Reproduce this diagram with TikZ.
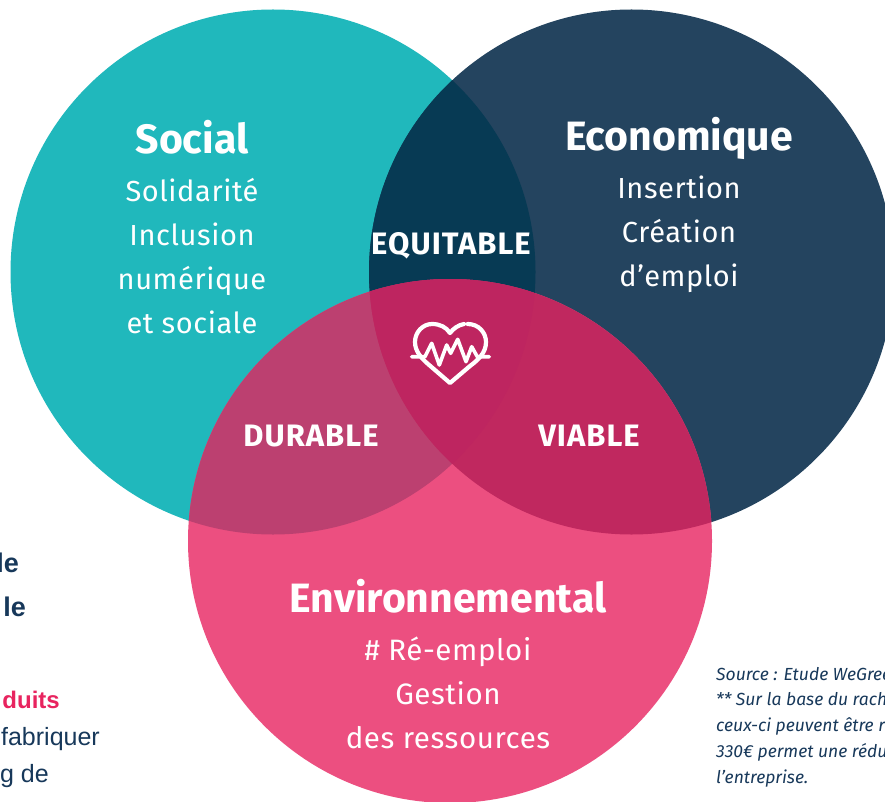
\documentclass[tikz,border=0pt]{standalone}
\usepackage{fontspec}
\setmainfont{Fira Sans}
\newfontfamily\leftfont{Liberation Sans}
\definecolor{cteal}{HTML}{20B8BC}
\definecolor{cnavy}{HTML}{24445F}
\definecolor{cpink}{HTML}{EC4F80}
\definecolor{ctn}{HTML}{073A54}
\definecolor{ctp}{HTML}{BC4070}
\definecolor{cnp}{HTML}{C0285F}
\definecolor{call}{HTML}{BE2560}
\definecolor{ctext}{HTML}{17385A}
\definecolor{cred}{HTML}{E8245F}
\tikzset{
  title/.style={text=white,font=\fontsize{41}{46}\selectfont\bfseries,inner sep=0pt,anchor=center},
  body/.style={text=white,font=\fontsize{29}{44}\selectfont\addfontfeatures{LetterSpace=2}\fontseries{l}\selectfont,inner sep=0pt,anchor=center,align=center},
  zone/.style={text=white,font=\fontsize{31}{36}\selectfont\addfontfeatures{LetterSpace=3.3}\bfseries,inner sep=0pt,anchor=center},
  leftbold/.style={text=ctext,font=\leftfont\fontsize{27}{30}\selectfont\bfseries,inner sep=0pt,anchor=base east},
  leftbody/.style={text=ctext,font=\leftfont\fontsize{25}{30}\selectfont,inner sep=0pt,anchor=base east},
  note/.style={text=ctext,font=\fontsize{17.5}{26}\selectfont\itshape,inner sep=0pt,anchor=base west},
  icon/.style={draw=white,line width=4.2pt,line cap=round,line join=round}
}
\def\teal{(273,272) circle[radius=262.5]}
\def\navy{(631.5,272) circle[radius=262.5]}
\def\pink{(450,541) circle[radius=262]}
\begin{document}
\begin{tikzpicture}[x=1pt,y=-1pt]
\useasboundingbox (0,0) rectangle (885,802);
\clip (0,0) rectangle (885,802);
\fill[white] (0,0) rectangle (885,802);
\fill[cteal] \teal;
\fill[cnavy] \navy;
\fill[cpink] \pink;
\begin{scope}\clip \teal; \fill[ctn] \navy; \end{scope}
\begin{scope}\clip \teal; \fill[ctp] \pink; \end{scope}
\begin{scope}\clip \navy; \fill[cnp] \pink; \end{scope}
\begin{scope}\clip \teal; \clip \navy; \fill[call] \pink; \end{scope}
% left text
\node[leftbold] (l1) at (19,572) {le};
\node[leftbold] (l2) at (26,616) {le};
\node[leftbold,text=cred,font=\leftfont\fontsize{24}{30}\selectfont\bfseries] (l3) at (60,708) {duits};
\node[leftbody] (l4) at (100,745) {fabriquer};
\node[leftbody] (l5) at (49,782) {kg de};
% circle texts
\node[title] (t1) at (192,137) {Social};
\node[body] (b1) at (192,256) {Solidarité\\Inclusion\\numérique\\et sociale};
\node[title] (t2) at (679,138) {Economique};
\node[body] (b2) at (679,234) {Insertion\\Création\\d’emploi};
\node[title] (t3) at (448,596) {Environnemental};
\node[body,font=\fontsize{29.5}{44}\selectfont\addfontfeatures{LetterSpace=2}\fontseries{l}\selectfont] (b3) at (448,693) {\# Ré-emploi\\Gestion\\des ressources};
\node[zone] (z1) at (451,246) {EQUITABLE};
\node[zone] (z2) at (311,436) {DURABLE};
\node[zone] (z3) at (589,436) {VIABLE};
% heart icon
\draw[icon] (467.7,324) .. controls (479,324) and (486,333) .. (486,342) .. controls (486,353) and (478,360) .. (470,366) -- (450,383) -- (428,364) .. controls (421,358) and (415,351) .. (415,342) .. controls (415,332) and (423,324) .. (432,324) .. controls (440,324) and (446,327) .. (450,333) .. controls (453,329) and (458,325) .. (464,324);
\draw[icon,line width=3.6pt] (411.7,356.7) -- (425,356.7) -- (431.7,343.3) -- (439.3,365) -- (446.7,345) -- (450.7,353.3) -- (457.7,339.3) -- (466,361.7) -- (471.7,346.7) -- (477.3,356.7) -- (489.3,356.7);
% notes
\node[note] (n1) at (716,680) {Source : Etude WeGreen};
\node[note] (n2) at (716,705) {** Sur la base du rachat};
\node[note] (n3) at (716,731) {ceux-ci peuvent être recyclés};
\node[note] (n4) at (716,757) {330€ permet une réduction};
\node[note] (n5) at (716,783) {l’entreprise.};
\end{tikzpicture}
\end{document}
